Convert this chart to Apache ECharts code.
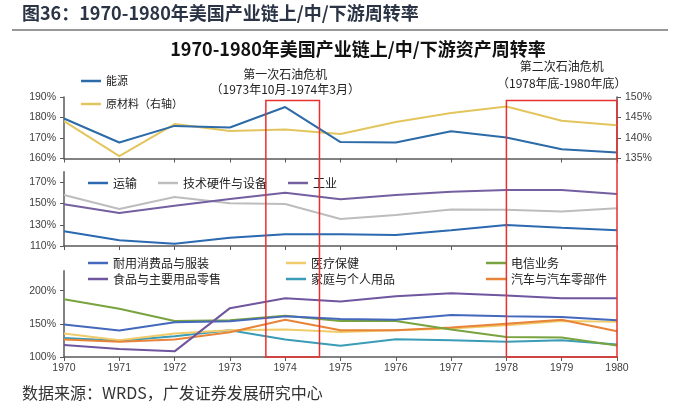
<!DOCTYPE html>
<html><head><meta charset="utf-8">
<script src="https://cdn.jsdelivr.net/npm/echarts@6/dist/echarts.min.js"></script>
<style>html,body{margin:0;padding:0;background:#fff}#c{width:700px;height:416px}</style>
</head><body><div id="c"></div>
<script>
const years = ['1970','1971','1972','1973','1974','1975','1976','1977','1978','1979','1980'];
// top panel
const energy = [179.5,167.8,175.9,175.1,185.1,168.0,167.8,173.3,170.2,164.5,162.9];
const rawMaterials = [144.1,135.6,143.4,141.7,142.1,141.0,143.9,146.1,147.7,144.2,143.1];
// middle panel
const transport = [123.8,115.4,112.2,117.8,121.0,121.0,120.4,124.8,129.8,127.2,124.8];
const techHardware = [158.0,144.8,156.1,150.2,149.6,135.4,139.2,144.5,144.2,142.6,145.5];
const industrials = [149.3,141.1,148.0,154.3,160.2,154.0,158.0,161.2,162.7,162.7,159.0];
// bottom panel
const durables = [148.8,139.8,152.2,153.7,161.2,157.2,156.2,163.2,161.2,160.2,155.2];
const healthcare = [135.4,125.4,135.4,140.3,141.3,137.8,140.3,142.8,147.8,154.2,153.0];
const telecom = [187.0,172.6,154.2,155.2,162.2,154.2,154.2,141.3,130.3,129.4,117.4];
const foodRetail = [117.9,111.9,108.5,173.6,188.5,183.5,191.5,196.0,192.5,188.5,188.5];
const household = [128.8,124.4,131.3,140.3,126.4,116.9,126.9,125.4,122.9,125.4,119.0];
const autos = [126.4,122.9,126.4,137.3,156.2,140.3,140.3,144.3,150.2,156.2,138.8];
// oil crises (fractional years)
const crisisStart = [1973.65, 1978];
const crisisEnd = [1974.62, 1980];
const crisisLabelYear = [1974, 1979];
const crisisTitle = ['第一次石油危机', '第二次石油危机'];
const crisisPeriod = ['（1973年10月-1974年3月）', '（1978年底-1980年底）'];

const FONT = '"Noto Sans CJK SC", "Noto Sans", sans-serif';
const NUMFONT = '"Liberation Sans", Arial, sans-serif';
const axisColor = '#595959';

const chart = echarts.init(document.getElementById('c'), null, {renderer:'canvas'});

function xAx(i){
  return {type:'category', gridIndex:i, data:years, boundaryGap:false,
    axisLine:{show:true, lineStyle:{color:axisColor, width:1.5}},
    axisTick:{show:true, length:4, lineStyle:{color:axisColor}},
    axisLabel:{show:i===2, fontSize:10.5, color:'#404040', fontFamily:NUMFONT, margin:6},
    splitLine:{show:false}};
}
function yAx(grid, min, max, interval, pos){
  return {type:'value', gridIndex:grid, min:min, max:max, interval:interval, position:pos||'left',
    axisLine:{show:true, lineStyle:{color:axisColor, width:1.5}},
    axisTick:{show:true, length:4, lineStyle:{color:axisColor}},
    axisLabel:{formatter:'{value}%', fontSize:10.5, color:'#404040', fontFamily:NUMFONT, margin:8, showMaxLabel: (max % interval === min % interval) },
    splitLine:{show:false}};
}
function ln(name, data, xi, yi, color){
  return {name:name, type:'line', data:data, xAxisIndex:xi, yAxisIndex:yi, symbol:'none',
    lineStyle:{color:color, width:2}, itemStyle:{color:color}};
}
const legBase = {icon:'rect', itemWidth:20, itemHeight:2.5,
  textStyle:{fontFamily:FONT, color:'#222', fontSize:12, lineHeight:14}};

const option = {
  animation:false,
  backgroundColor:'#fff',
  grid:[
    {left:64, right:83, top:97, height:61.5},
    {left:64, right:83, top:171.7, height:74.3},
    {left:64, right:83, top:270.7, height:86.3}
  ],
  xAxis:[xAx(0), xAx(1), xAx(2)],
  yAxis:[yAx(0,160,190,10), yAx(0,135,150,5,'right'), yAx(1,110,180,20), yAx(2,100,230,50)],
  legend:[
    Object.assign({}, legBase, {orient:'vertical', left:76, top:69, itemGap:9,
      textStyle:{fontFamily:FONT, color:'#222', fontSize:11, lineHeight:14},
      data:['能源','原材料（右轴）']}),
    Object.assign({}, legBase, {orient:'horizontal', left:83, top:171, itemGap:21,
      data:['运输','技术硬件与设备','工业']}),
    Object.assign({}, legBase, {orient:'vertical', left:83, top:251, itemGap:2,
      data:['耐用消费品与服装','食品与主要用品零售']}),
    Object.assign({}, legBase, {orient:'vertical', left:281, top:251, itemGap:2,
      data:['医疗保健','家庭与个人用品']}),
    Object.assign({}, legBase, {orient:'vertical', left:481, top:251, itemGap:2,
      data:['电信业务','汽车与汽车零部件']})
  ],
  series:[
    ln('原材料（右轴）', rawMaterials, 0, 1, '#e3c55e'),
    ln('能源', energy, 0, 0, '#2c6aa8'),
    ln('技术硬件与设备', techHardware, 1, 2, '#bdbdbd'),
    ln('工业', industrials, 1, 2, '#7460a0'),
    ln('运输', transport, 1, 2, '#2b69b0'),
    ln('家庭与个人用品', household, 2, 3, '#3a9cb6'),
    ln('医疗保健', healthcare, 2, 3, '#f0cb6a'),
    ln('汽车与汽车零部件', autos, 2, 3, '#e8843a'),
    ln('电信业务', telecom, 2, 3, '#78a33f'),
    ln('耐用消费品与服装', durables, 2, 3, '#4468bb'),
    ln('食品与主要用品零售', foodRetail, 2, 3, '#70559f')
  ],
  graphic:[
    {type:'text', left:22, top:4, style:{text:'图36：1970-1980年美国产业链上/中/下游周转率', fontFamily:FONT, fontWeight:'bold', fontSize:18, fill:'#2b3445'}},
    {type:'line', shape:{x1:12, y1:30, x2:668, y2:30}, style:{stroke:'#333', lineWidth:1.2}},
    {type:'text', x:358, y:49, style:{text:'1970-1980年美国产业链上/中/下游资产周转率', fontFamily:FONT, fontWeight:'bold', fontSize:18, fill:'#111', textAlign:'center', textVerticalAlign:'middle'}},
    {type:'text', left:22, top:385, style:{text:'数据来源：WRDS，广发证券发展研究中心', fontFamily:FONT, fontSize:16, fill:'#333'}}
  ]
};
chart.setOption(option);

function yearPx(v){
  const i = Math.min(Math.floor(v - 1970), years.length - 1);
  const f = v - 1970 - i;
  const a = chart.convertToPixel({xAxisIndex:2}, years[i]);
  const b = i + 1 < years.length ? chart.convertToPixel({xAxisIndex:2}, years[i+1]) : a;
  return a + f * (b - a);
}
const yTop = chart.convertToPixel({yAxisIndex:0}, 188.3);
const yBot = chart.convertToPixel({yAxisIndex:3}, 100);
const extra = [];
const titleY = [[74, 89], [66, 83]];
for (let k = 0; k < crisisStart.length; k++) {
  const x1 = yearPx(crisisStart[k]), x2 = yearPx(crisisEnd[k]);
  extra.push({type:'rect', z:100, shape:{x:x1, y:yTop, width:x2-x1, height:yBot-yTop},
    style:{fill:'none', stroke:'#e8312f', lineWidth:1.5}});
  const cx = yearPx(crisisLabelYear[k]);
  extra.push({type:'text', z:100, x:cx, y:titleY[k][0], style:{text:crisisTitle[k], fontFamily:FONT, fontSize:12, fill:'#222', textAlign:'center', textVerticalAlign:'middle'}});
  extra.push({type:'text', z:100, x:cx, y:titleY[k][1], style:{text:crisisPeriod[k], fontFamily:FONT, fontSize:12, fill:'#222', textAlign:'center', textVerticalAlign:'middle'}});
}
chart.setOption({graphic: option.graphic.concat(extra)});
</script></body></html>
